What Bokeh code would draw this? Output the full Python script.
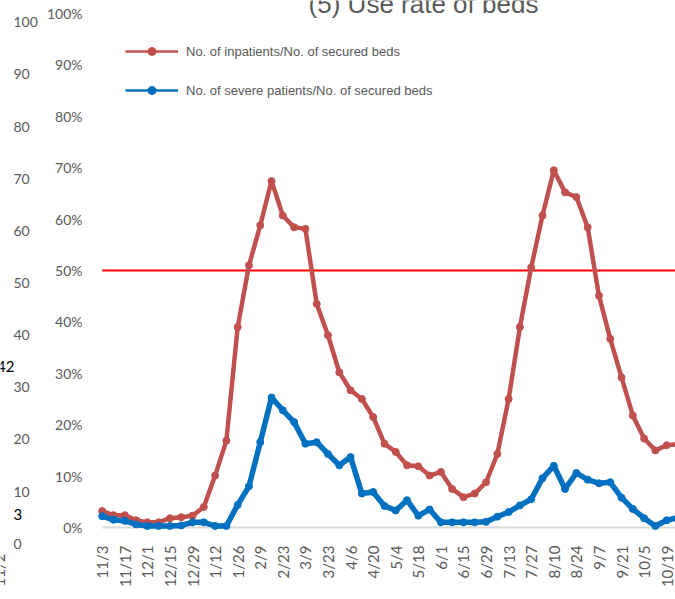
import math
from bokeh.plotting import figure
from bokeh.models import Range1d, FixedTicker, Legend, LegendItem, Label
from bokeh.embed import file_html
from bokeh.resources import INLINE

# ---------------- data ----------------
weeks = ["11/3", "11/10", "11/17", "11/24", "12/1", "12/8", "12/15", "12/22", "12/29",
         "1/5", "1/12", "1/19", "1/26", "2/2", "2/9", "2/16", "2/23", "3/2", "3/9",
         "3/16", "3/23", "3/30", "4/6", "4/13", "4/20", "4/27", "5/4", "5/11", "5/18",
         "5/25", "6/1", "6/8", "6/15", "6/22", "6/29", "7/6", "7/13", "7/20", "7/27",
         "8/3", "8/10", "8/17", "8/24", "8/31", "9/7", "9/14", "9/21", "9/28", "10/5",
         "10/12", "10/19", "10/26"]

inpatients = [3.2, 2.4, 2.4, 1.4, 1.0, 1.0, 1.8, 2.0, 2.3, 4.0, 10.1, 16.9, 39.0, 51.0,
              58.8, 67.4, 60.7, 58.4, 58.1, 43.5, 37.4, 30.2, 26.7, 25.0, 21.5, 16.3,
              14.7, 12.1, 11.9, 10.1, 10.8, 7.5, 5.9, 6.6, 8.8, 14.3, 25.0, 39.0, 50.6,
              60.7, 69.5, 65.2, 64.3, 58.4, 45.1, 36.7, 29.2, 21.8, 17.3, 15.0, 16.0, 16.2]

severe = [2.2, 1.5, 1.3, 0.6, 0.3, 0.3, 0.3, 0.4, 1.0, 1.0, 0.3, 0.3, 4.4, 8.0, 16.6,
          25.3, 22.8, 20.5, 16.3, 16.6, 14.3, 12.1, 13.7, 6.6, 6.9, 4.2, 3.3, 5.3, 2.3,
          3.5, 1.0, 1.0, 1.0, 1.0, 1.1, 2.1, 3.0, 4.3, 5.5, 9.6, 12.0, 7.5, 10.6, 9.3,
          8.6, 8.8, 5.8, 3.6, 1.8, 0.3, 1.4, 1.9]

series_names = ["No. of inpatients/No. of secured beds",
                "No. of severe patients/No. of secured beds"]
title_text = "(5) Use rate of beds"
threshold = 50
pct_ticks = list(range(0, 101, 10))
tick_idx = list(range(0, len(weeks) - 1, 2))

# fragments of the neighbouring chart (4) visible at the left edge
prev_ticks = list(range(0, 101, 10))
prev_data_labels = ["42", "3"]
prev_date_label = "11/2"

# ---------------- layout ----------------
W, H = 675, 599
X0, X1 = -9.008, 50.78
Y0, Y1 = -14.01, 102.53
PREV0, PREV1 = -10.68, 104.16


def x_at(px):
    return X0 + px / W * (X1 - X0)


def y_at(py):
    return Y0 + (H - py) / H * (Y1 - Y0)


RED = "#C0504D"
BLUE = "#0070C0"
GRAY = "#595959"

p = figure(width=W, height=H, output_backend="svg", toolbar_location=None,
           x_range=Range1d(X0, X1), y_range=Range1d(Y0, Y1),
           min_border_left=0, min_border_right=0, min_border_top=0,
           min_border_bottom=0, outline_line_color=None)
p.extra_y_ranges = {"prev": Range1d(PREV0, PREV1)}
p.xgrid.visible = False
p.ygrid.visible = False

# x axis, drawn just under the 0% baseline
p.xaxis.fixed_location = y_at(530)
p.xaxis.ticker = FixedTicker(ticks=tick_idx)
p.xaxis.major_label_overrides = {i: weeks[i] for i in tick_idx}
p.xaxis.major_label_orientation = math.pi / 2
p.xaxis.axis_line_color = None
p.xaxis.major_tick_line_color = None
p.xaxis.minor_tick_line_color = None
p.xaxis.major_label_standoff = 9
p.xaxis.major_label_text_font = "Lato"
p.xaxis.major_label_text_font_size = "15px"
p.xaxis.major_label_text_color = GRAY

# percent axis, drawn at the left end of the plotted area
p.yaxis.fixed_location = x_at(97)
p.yaxis.ticker = FixedTicker(ticks=pct_ticks)
p.yaxis.major_label_overrides = {v: f"{v}%" for v in pct_ticks}
p.yaxis.axis_line_color = None
p.yaxis.major_tick_line_color = None
p.yaxis.minor_tick_line_color = None
p.yaxis.major_label_standoff = 9
p.yaxis.major_label_text_font = "Lato"
p.yaxis.major_label_text_font_size = "14px"
p.yaxis.major_label_text_color = GRAY

n = len(weeks)
# baseline (0%) and 50% reference line, spanning the category area
p.line(x=[0, n], y=[0, 0], line_color="#D9D9D9", line_width=2)
p.line(x=[0, n], y=[threshold, threshold], line_color="#FF0000", line_width=2)

xs = list(range(n))
p.line(x=xs, y=inpatients, line_color=RED, line_width=4.5, line_join="round")
p.scatter(x=xs, y=inpatients, size=7, fill_color=RED, line_color=RED)
p.line(x=xs, y=severe, line_color=BLUE, line_width=5.5, line_join="round")
p.scatter(x=xs, y=severe, size=7, fill_color=BLUE, line_color=BLUE)

# legend samples (thinner than the plotted lines, as in the original)
lr1 = p.line(x=xs, y=inpatients, line_color=RED, line_width=2.5, visible=False)
lc1 = p.scatter(x=xs, y=inpatients, size=6, fill_color=RED, line_color=RED, visible=False)
lr2 = p.line(x=xs, y=severe, line_color=BLUE, line_width=2.5, visible=False)
lc2 = p.scatter(x=xs, y=severe, size=6, fill_color=BLUE, line_color=BLUE, visible=False)
legend = Legend(items=[LegendItem(label=series_names[0], renderers=[lr1, lc1]),
                       LegendItem(label=series_names[1], renderers=[lr2, lc2])],
                location=(125, 499), glyph_width=53, glyph_height=20, label_height=20,
                label_standoff=8, spacing=19, padding=0, margin=0,
                border_line_color=None, background_fill_alpha=0,
                label_text_font="Liberation Sans", label_text_font_size="13px",
                label_text_color=GRAY)
p.add_layout(legend)

# title (cut by the top edge in the original)
p.add_layout(Label(x=x_at(423), y=y_at(3), text=title_text, text_align="center",
                   text_baseline="alphabetic", text_font="Liberation Sans",
                   text_font_size="26px", text_color=GRAY))

# remains of the previous chart: its right axis, two data labels, one date label
for v in prev_ticks:
    p.add_layout(Label(x=x_at(13), y=v, y_range_name="prev", text=str(v),
                       text_align="left", text_baseline="middle", text_font="Lato",
                       text_font_size="14px", text_color=GRAY))
p.add_layout(Label(x=x_at(14), y=y_at(366), text=prev_data_labels[0], text_align="right",
                   text_baseline="middle", text_font="Lato", text_font_size="15px",
                   text_color="#000000"))
p.add_layout(Label(x=x_at(13), y=y_at(514), text=prev_data_labels[1], text_align="left",
                   text_baseline="middle", text_font="Lato", text_font_size="15px",
                   text_color="#000000"))
p.add_layout(Label(x=x_at(-2), y=y_at(553), text=prev_date_label, angle=math.pi / 2,
                   text_align="right", text_baseline="middle", text_font="Lato",
                   text_font_size="15px", text_color=GRAY))

open("out.html", "w").write(file_html(p, INLINE))
